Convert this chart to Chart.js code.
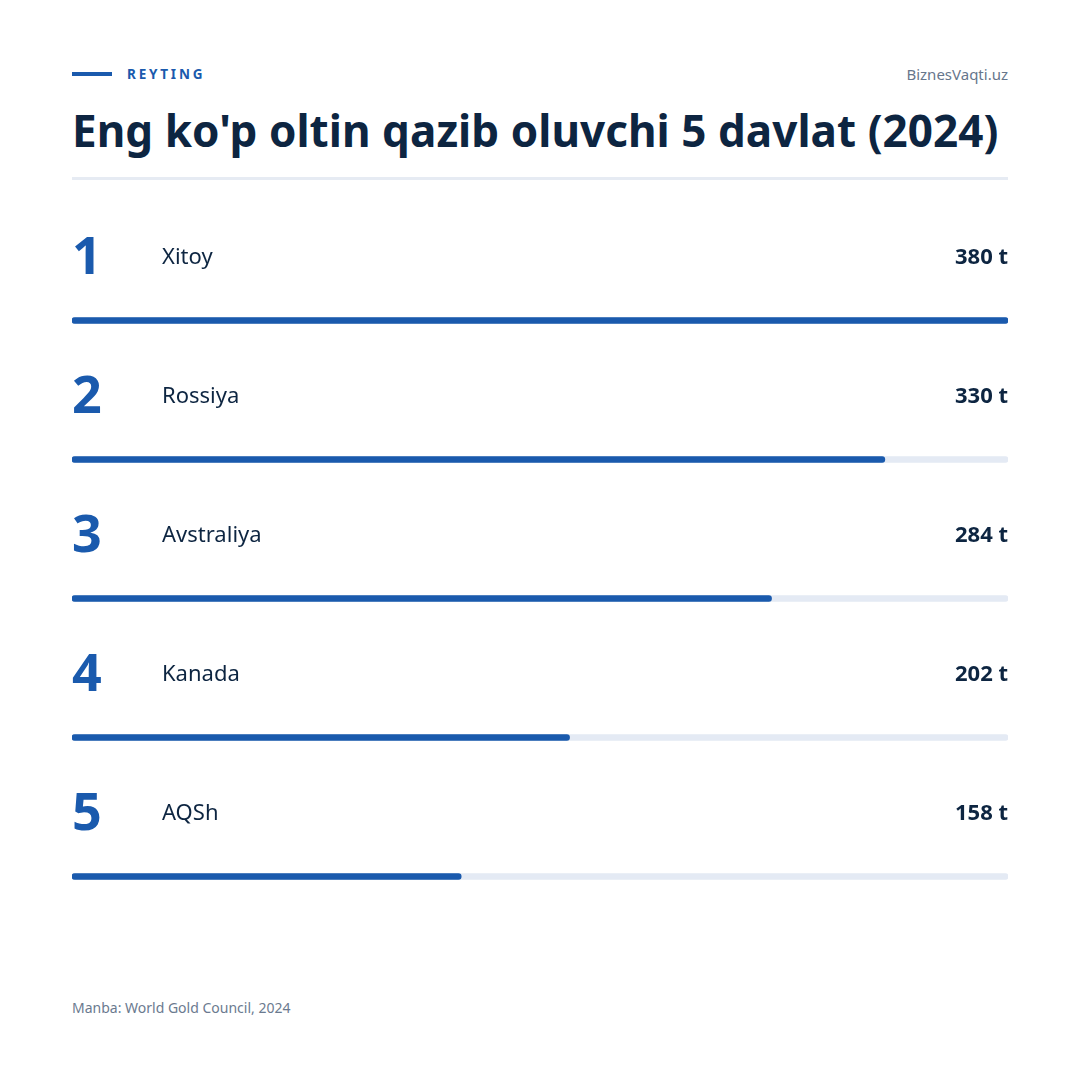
<!DOCTYPE html>
<html>
<head>
<meta charset="utf-8">
<script src="https://cdn.jsdelivr.net/npm/chart.js@4.4.1/dist/chart.umd.min.js"></script>
<style>
  html, body { margin: 0; padding: 0; background: #ffffff; }
  body { width: 1080px; height: 1080px; position: relative; overflow: hidden; font-family: 'Noto Sans', sans-serif; }
  .kicker-line { position: absolute; left: 72px; top: 72px; width: 40px; height: 4px; background: #1a5aad; }
  .kicker { position: absolute; left: 127px; top: 64px; font-size: 13.5px; font-weight: 700; letter-spacing: 2.8px; color: #1a5aad; line-height: 20px; }
  .brand { position: absolute; right: 72px; top: 64px; font-size: 15px; color: #66768c; line-height: 20px; }
  h1 { position: absolute; left: 72px; top: 100px; margin: 0; font-size: 44px; font-weight: 700; color: #0d2541; line-height: 60px; letter-spacing: 0.05px; }
  .divider { position: absolute; left: 72px; top: 177px; width: 936px; height: 3px; background: #e6ebf3; }
  .source { position: absolute; left: 72px; top: 998px; font-size: 14px; color: #6b7a8f; line-height: 20px; }
  #wrap { position: absolute; left: 72px; top: 181px; width: 936px; height: 765px; }
</style>
</head>
<body>
<div class="kicker-line"></div>
<div class="kicker">REYTING</div>
<div class="brand">BiznesVaqti.uz</div>
<h1>Eng ko'p oltin qazib oluvchi 5 davlat (2024)</h1>
<div class="divider"></div>
<div id="wrap"><canvas id="c" width="936" height="765"></canvas></div>
<div class="source">Manba: World Gold Council, 2024</div>
<script>
const ranks = ['1', '2', '3', '4', '5'];
const countries = ['Xitoy', 'Rossiya', 'Avstraliya', 'Kanada', 'AQSh'];
const values = [380, 330, 284, 202, 158];
const unit = ' t';
const maxValue = 380;
const trackValues = countries.map(() => maxValue);

const rowLabels = {
  id: 'rowLabels',
  afterDatasetsDraw(chart) {
    const ctx = chart.ctx;
    const y = chart.scales.y;
    const left = chart.chartArea.left;
    const right = chart.chartArea.right;
    ctx.save();
    countries.forEach((name, i) => {
      const cy = y.getPixelForValue(i) - 64;
      ctx.textBaseline = 'middle';
      ctx.fillStyle = '#1a5aad';
      ctx.textAlign = 'left';
      ctx.font = "700 52px 'Noto Sans'";
      ctx.fillText(ranks[i], left, cy + 3);
      ctx.fillStyle = '#0d2541';
      ctx.font = "400 22px 'Noto Sans'";
      ctx.fillText(name, left + 90, cy + 1.5);
      ctx.textAlign = 'right';
      ctx.font = "700 22px 'Noto Sans'";
      ctx.fillText(values[i] + unit, right, cy + 1.5);
    });
    ctx.restore();
  }
};

new Chart(document.getElementById('c'), {
  type: 'bar',
  data: {
    labels: countries,
    datasets: [
      { data: values, backgroundColor: '#1a5aad', barThickness: 6, borderRadius: 3, borderSkipped: false, grouped: false, order: 0 },
      { data: trackValues, backgroundColor: '#e4eaf4', barThickness: 6, borderRadius: 3, borderSkipped: false, grouped: false, order: 1 }
    ]
  },
  options: {
    indexAxis: 'y',
    responsive: false,
    animation: false,
    layout: { padding: { top: 70, left: 0, right: 0, bottom: 0 } },
    plugins: { legend: { display: false }, tooltip: { enabled: false } },
    scales: {
      x: { display: false, min: 0, max: maxValue },
      y: { display: false, offset: true }
    }
  },
  plugins: [rowLabels]
});
</script>
</body>
</html>
